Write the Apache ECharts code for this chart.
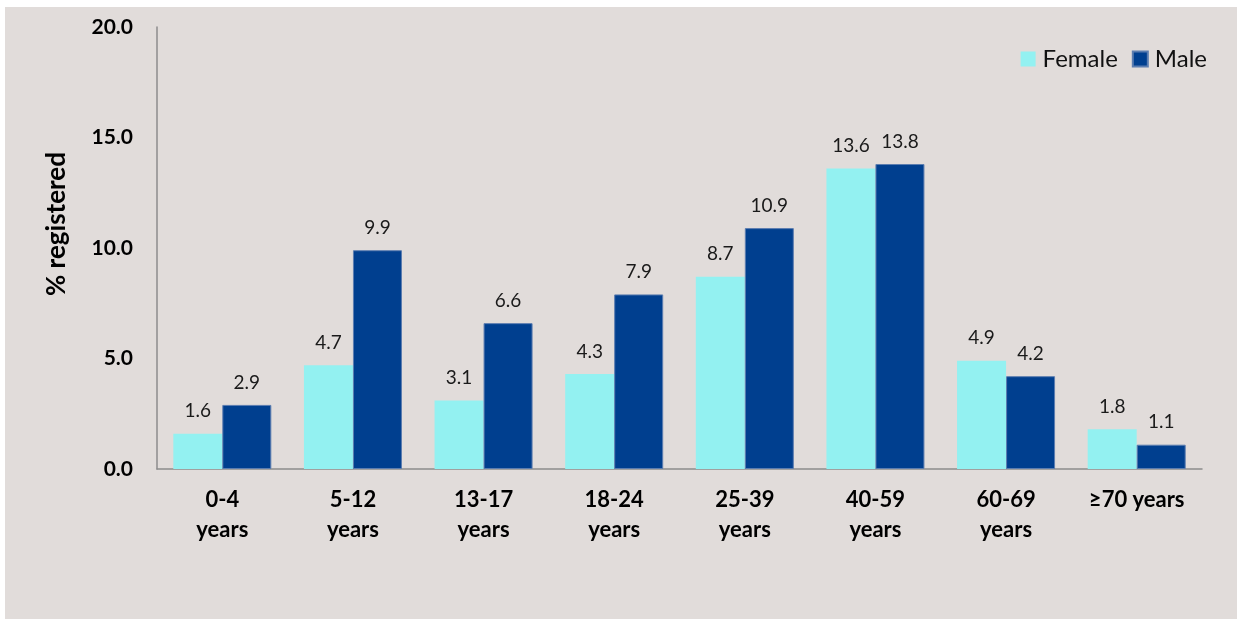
<!DOCTYPE html>
<html>
<head>
<meta charset="utf-8">
<script src="https://cdn.jsdelivr.net/npm/echarts@6/dist/echarts.min.js"></script>
<style>
  html, body { margin: 0; padding: 0; background: #fff; }
  #bg { position: absolute; left: 5px; top: 7px; width: 1232px; height: 612px; background: #e1dcda; }
  #chart { position: absolute; left: 0; top: 0; width: 1237px; height: 619px; }
</style>
</head>
<body>
<div id="bg"></div>
<div id="chart"></div>
<script>
var categories = ['0-4\nyears', '5-12\nyears', '13-17\nyears', '18-24\nyears', '25-39\nyears', '40-59\nyears', '60-69\nyears', '≥70 years']
var femaleData = [1.6, 4.7, 3.1, 4.3, 8.7, 13.6, 4.9, 1.8]
var maleData = [2.9, 9.9, 6.6, 7.9, 10.9, 13.8, 4.2, 1.1]
var yTicks = [0, 5, 10, 15, 20]

var font = 'Lato, "Open Sans", sans-serif'
var chart = echarts.init(document.getElementById('chart'))

var labelStyle = {
  show: true,
  position: 'top',
  distance: 13,
  fontFamily: font,
  fontSize: 19,
  color: '#1a1a1a',
  formatter: function(p) { return p.value.toFixed(1) }
}

chart.setOption({
  animation: false,
  textStyle: { fontFamily: font },
  legend: {
    right: 25,
    top: 42,
    itemWidth: 15,
    itemHeight: 15,
    itemGap: 14,
    icon: 'rect',
    textStyle: { fontSize: 24, color: '#111', fontFamily: font, padding: [0, 0, 0, 2] },
    data: ['Female', 'Male']
  },
  grid: {
    left: 157,
    right: 35,
    top: 27,
    bottom: 150
  },
  graphic: [{
    type: 'text',
    x: 57,
    y: 224,
    rotation: Math.PI / 2,
    style: {
      text: '% registered',
      font: 'bold 26px ' + font,
      fill: '#000',
      textAlign: 'center',
      textVerticalAlign: 'middle'
    }
  }],
  xAxis: {
    type: 'category',
    data: categories,
    axisLine: { lineStyle: { color: '#8c8c8c', width: 1.5 } },
    axisTick: { show: false },
    axisLabel: {
      margin: 16,
      fontSize: 22,
      fontWeight: 'bold',
      color: '#000',
      lineHeight: 30,
      interval: 0
    }
  },
  yAxis: {
    type: 'value',
    min: yTicks[0],
    max: yTicks[yTicks.length - 1],
    interval: 5,
    axisLine: { show: true, lineStyle: { color: '#8c8c8c', width: 1.5 } },
    axisTick: { show: false },
    splitLine: { show: false },
    axisLabel: {
      margin: 24,
      fontSize: 21,
      fontWeight: 'bold',
      color: '#000',
      formatter: function(v) { return v.toFixed(1) }
    }
  },
  series: [{
    name: 'Female',
    type: 'bar',
    barWidth: 49,
    barGap: '0%',
    itemStyle: { color: '#93f1f1' },
    label: labelStyle,
    data: femaleData
  }, {
    name: 'Male',
    type: 'bar',
    barWidth: 49,
    itemStyle: { color: '#003f8f', borderColor: '#5b7db0', borderWidth: 1 },
    label: labelStyle,
    data: maleData
  }]
})
</script>
</body>
</html>
